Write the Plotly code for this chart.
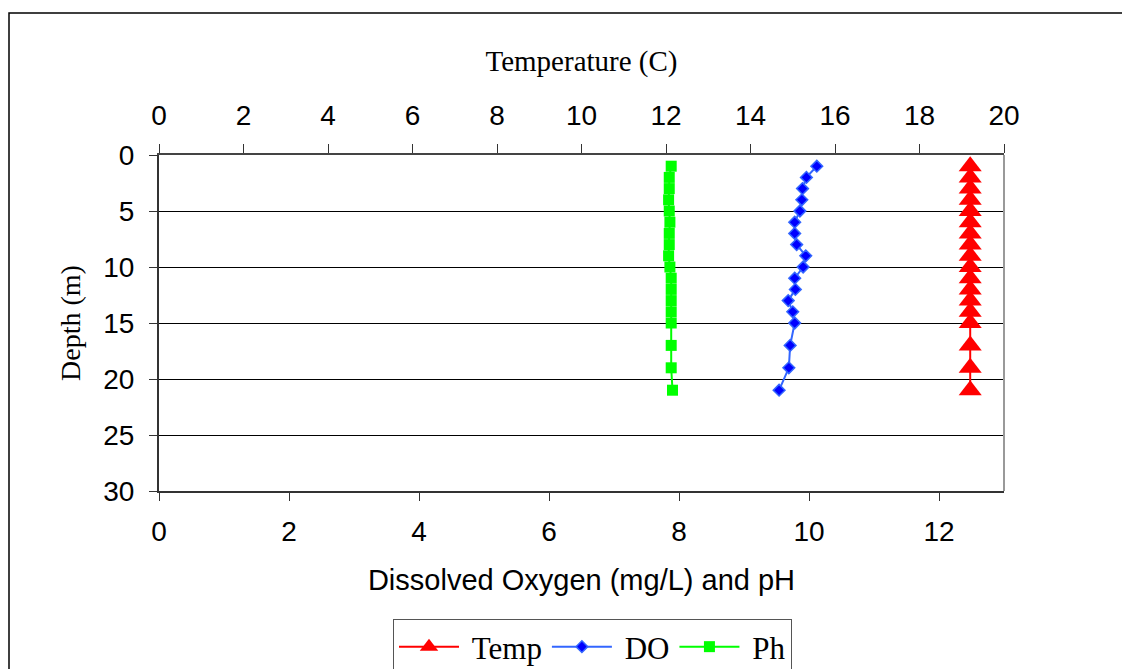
import plotly.graph_objects as go

# depth of each reading (m)
depth = [1, 2, 3, 4, 5, 6, 7, 8, 9, 10, 11, 12, 13, 14, 15, 17, 19, 21]

# temperature (C) - top axis
temp = [19.2, 19.2, 19.2, 19.2, 19.2, 19.2, 19.2, 19.2, 19.2,
        19.2, 19.2, 19.2, 19.2, 19.2, 19.2, 19.2, 19.2, 19.2]

# dissolved oxygen (mg/L) - bottom axis
do_vals = [10.12, 9.96, 9.90, 9.89, 9.86, 9.78, 9.78, 9.81, 9.95,
           9.91, 9.78, 9.79, 9.68, 9.75, 9.78, 9.71, 9.69, 9.54]

# pH - bottom axis
ph = [7.88, 7.85, 7.85, 7.84, 7.85, 7.86, 7.85, 7.85, 7.84,
      7.86, 7.88, 7.88, 7.88, 7.88, 7.88, 7.88, 7.88, 7.9]

serif = "Liberation Serif, Times New Roman, serif"
sans = "Liberation Sans, Arial, sans-serif"

fig = go.Figure()

# a non-breaking space in front of each name widens the gap after the legend line
fig.add_trace(go.Scatter(
    x=temp, y=depth, xaxis="x2", yaxis="y",
    mode="lines+markers", name="\u00a0Temp",
    line=dict(color="#ff0000", width=2),
    marker=dict(symbol="triangle-up", size=20, color="#ff0000")
))

fig.add_trace(go.Scatter(
    x=do_vals, y=depth,
    mode="lines+markers", name="\u00a0DO",
    line=dict(color="#3366ff", width=2),
    marker=dict(symbol="diamond", size=9, color="#0000ff",
                line=dict(color="#3366ff", width=1.5))
))

fig.add_trace(go.Scatter(
    x=ph, y=depth,
    mode="lines+markers", name="\u00a0Ph",
    line=dict(color="#00ff00", width=2),
    marker=dict(symbol="square", size=11, color="#00ff00")
))

# plot area in page pixels: 159..1004 across, 155..491 down (page has 8px body margin)
L, T, W, H = 151, 147, 845, 336

# outer frame (only left and top edges visible) and right plot border
fx = (1 - L) / W
fy = (T + H - 5) / H
fig.add_shape(type="path", xref="paper", yref="paper",
              path=f"M 1.3,{fy} L {fx},{fy} L {fx},-0.7",
              line=dict(color="black", width=1.5))
fig.add_shape(type="line", xref="paper", yref="paper",
              x0=1, x1=1, y0=0, y1=1,
              line=dict(color="#999999", width=2))

fig.update_layout(
    width=1130, height=669,
    margin=dict(l=L, r=1130 - L - W, t=T, b=669 - T - H, autoexpand=False),
    paper_bgcolor="white", plot_bgcolor="white",
    showlegend=True,
    legend=dict(
        orientation="h",
        x=(393 - 8 - L) / W, xanchor="left",
        y=(T + H - 611) / H, yanchor="top",
        font=dict(family=serif, size=31, color="black"),
        bordercolor="#555555", borderwidth=1,
        itemwidth=60,
    ),
    xaxis=dict(
        range=[0, 13], tick0=0, dtick=2,
        showgrid=False, zeroline=False, automargin=False,
        showline=True, linecolor="#333333", linewidth=2,
        ticks="outside", ticklen=8, tickcolor="#333333",
        tickfont=dict(family=sans, size=28, color="black"),
        ticklabelstandoff=6,
        title=dict(text="Dissolved Oxygen (mg/L) and pH",
                   font=dict(family=sans, size=29, color="black"),
                   standoff=24),
    ),
    xaxis2=dict(
        range=[0, 20], tick0=0, dtick=2,
        overlaying="x", side="top", anchor="y", automargin=False,
        showgrid=False, zeroline=False,
        showline=True, linecolor="#444444", linewidth=2,
        ticks="outside", ticklen=9, tickcolor="#333333",
        tickfont=dict(family=sans, size=28, color="black"),
        ticklabelstandoff=8,
        title=dict(text="Temperature (C)",
                   font=dict(family=serif, size=29, color="black"),
                   standoff=20),
    ),
    yaxis=dict(
        range=[30, 0], tick0=0, dtick=5, automargin=False,
        showgrid=True, gridcolor="black", gridwidth=1,
        zeroline=False,
        showline=True, linecolor="#333333", linewidth=2,
        ticks="outside", ticklen=8, tickcolor="#333333",
        tickfont=dict(family=sans, size=28, color="black"),
        ticklabelstandoff=9,
        title=dict(text="Depth (m)",
                   font=dict(family=serif, size=28, color="black"),
                   standoff=14),
    ),
)

fig.write_html("out.html")
